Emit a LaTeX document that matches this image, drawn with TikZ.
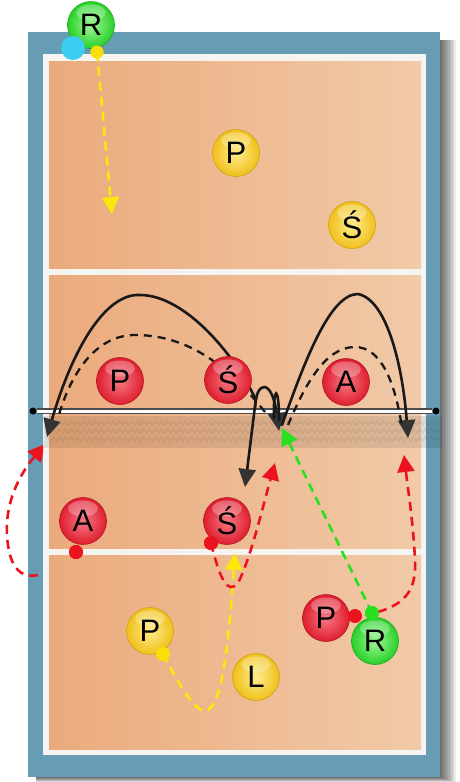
\documentclass[tikz,border=0pt]{standalone}
\usepackage{fontspec}
\setmainfont{Liberation Sans}
\usetikzlibrary{arrows.meta,decorations.pathmorphing}
\definecolor{courtblue}{RGB}{102,157,180}
\definecolor{courtL}{RGB}{235,170,124}
\definecolor{courtR}{RGB}{241,202,168}
\definecolor{lineW}{RGB}{246,244,240}
\definecolor{plred}{RGB}{222,30,48}
\definecolor{plredL}{RGB}{248,120,130}
\definecolor{plyel}{RGB}{240,192,26}
\definecolor{plyelL}{RGB}{255,236,140}
\definecolor{plgrn}{RGB}{40,208,40}
\definecolor{plgrnL}{RGB}{160,248,150}
\definecolor{arrred}{RGB}{235,20,30}
\definecolor{arrgrn}{RGB}{40,225,30}
\definecolor{arryel}{RGB}{250,232,10}
\definecolor{arrblk}{RGB}{25,25,25}
\definecolor{ballcyan}{RGB}{60,205,240}
\tikzset{
  player/.style={circle, minimum size=47pt, inner sep=0pt,
    font=\fontsize{31}{31}\selectfont, line width=0.6pt,
    path picture={\fill[white,opacity=0.28] ([yshift=-11pt]path picture bounding box.north) ellipse (15pt and 8pt);}},
  redpl/.style={player, draw=plred!80!black, inner color=plredL, outer color=plred},
  yelpl/.style={player, draw=plyel!85!black, inner color=plyelL, outer color=plyel},
  grnpl/.style={player, draw=plgrn!80!black, inner color=plgrnL, outer color=plgrn},
  dot/.style={circle, inner sep=0pt, minimum size=#1},
  blk/.style={draw=arrblk, line width=2.6pt, line cap=round},
  blktip/.style={-{Triangle[length=18pt,width=17pt,color=black!80]}},
  blkdash/.style={draw=arrblk, line width=2.3pt, dash pattern=on 8pt off 6pt},
  coldash/.style={draw=#1, line width=2.6pt, dash pattern=on 9pt off 6pt,
    -{Triangle[length=17pt,width=17pt]}},
}
\begin{document}
\begin{tikzpicture}[x=1pt,y=-1pt]
\useasboundingbox (0,0) rectangle (460,782);
% shadow
\foreach \i in {1,...,10}
  \fill[black,opacity=0.08] (36,40) rectangle ({440+1.6*\i},{777+0.5*\i});
% court
\fill[courtblue] (28,32) rectangle (440,777);
\fill[lineW] (43,54) rectangle (426,755);
\shade[left color=courtL, right color=courtR] (49,61) rectangle (421,749);
\fill[lineW] (43,269) rectangle (426,275);
\fill[lineW] (43,549) rectangle (426,555);
% net band
\fill[black,opacity=0.09] (44,416) rectangle (442,448);
\foreach \yy in {423,431,439}
  \draw[black,opacity=0.08,line width=1pt,decorate,decoration={zigzag,segment length=6pt,amplitude=2pt}] (46,\yy) -- (440,\yy);
% net
\node[dot=7pt, fill=black] (nl) at (33,411) {};
\node[dot=7pt, fill=black] (nr) at (436,411) {};
\draw[draw=black!70, line width=1.2pt, double=white, double distance=3pt] (nl) -- (nr);

% black trajectories
\draw[blk, blktip] (256,400) .. controls (235,355) and (185,295) .. (140,295)
   .. controls (105,293) and (72,350) .. (47,437);
\draw[blkdash] (265,412) .. controls (230,368) and (190,335) .. (135,335)
   .. controls (95,335) and (70,375) .. (58,418);
\draw[blk, blktip] (255,408) .. controls (256,380) and (272,378) .. (279,431);
\draw[blk] (274,418) .. controls (273,386) and (279,384) .. (279,420);
\draw[blk, blktip] (256,398) -- (245,487);
\draw[blk, blktip] (282,425) .. controls (305,360) and (330,294) .. (358,294)
   .. controls (388,300) and (403,370) .. (408,438);
\draw[blkdash] (288,425) .. controls (305,385) and (325,347) .. (355,347)
   .. controls (380,347) and (395,380) .. (402,428);

% dots (start points)
\node[dot=14pt, fill=arrred] (rd1) at (76,552) {};
\node[dot=14pt, fill=arrred] (rd2) at (211,543) {};
\node[dot=14pt, fill=arrgrn] (gd) at (372,613) {};
\node[dot=14pt, fill=arryel!90!orange] (yd2) at (163,654) {};
\node[dot=13pt, fill=arryel!90!orange] (yd1) at (97,52) {};
\coordinate (rsrc) at (378,612);

% coloured runs
\draw[coldash=arryel] (yd1.center) -- (112,214);
\draw[coldash=arryel] (yd2.center) .. controls (180,685) and (195,715) .. (208,710)
   .. controls (225,700) and (230,620) .. (235,553);
\draw[coldash=arrgrn] (gd.center) -- (282,428);
\begin{scope}
\clip (0,0) rectangle (43,782);
\draw[coldash=arrred] (rd1.center) .. controls (50,575) and (20,590) .. (10,555)
   .. controls (0,515) and (15,480) .. (45,444);
\end{scope}
\draw[coldash=arrred] (rd2.center) .. controls (220,580) and (228,595) .. (238,583)
   .. controls (250,560) and (262,510) .. (275,463);
\draw[coldash=arrred] (rsrc) .. controls (400,605) and (417,595) .. (415,560)
   .. controls (413,520) and (408,490) .. (404,455);

% players
\node[yelpl] (yP1) at (236,153) {P};
\node[yelpl] (yS1) at (352,225) {Ś};
\node[redpl] (rP1) at (120,381) {P};
\node[redpl] (rS1) at (228,380) {Ś};
\node[redpl] (rA1) at (346,382) {A};
\node[redpl] (rA2) at (83,521) {A};
\node[redpl] (rS2) at (227,521) {Ś};
\node[yelpl] (yP2) at (150,631) {P};
\node[yelpl] (yL) at (256,677) {L};
\node[redpl] (rP2) at (326,618) {P};
\node[grnpl] (gR2) at (375,641) {R};
\node[grnpl] (gR1) at (91,25) {R};

% dots on top
\node[dot=14pt, fill=arrred] at (rd1) {};
\node[dot=14pt, fill=arrred] at (rd2) {};
\node[dot=14pt, fill=arrred] (rd3) at (355,616) {};
\node[dot=14pt, fill=arrgrn] at (gd) {};
\node[dot=14pt, fill=arryel!90!orange] at (yd2) {};
\node[dot=24pt, fill=ballcyan] (ball) at (73,48) {};
\node[dot=13pt, fill=arryel!90!orange] at (yd1) {};
\end{tikzpicture}
\end{document}
